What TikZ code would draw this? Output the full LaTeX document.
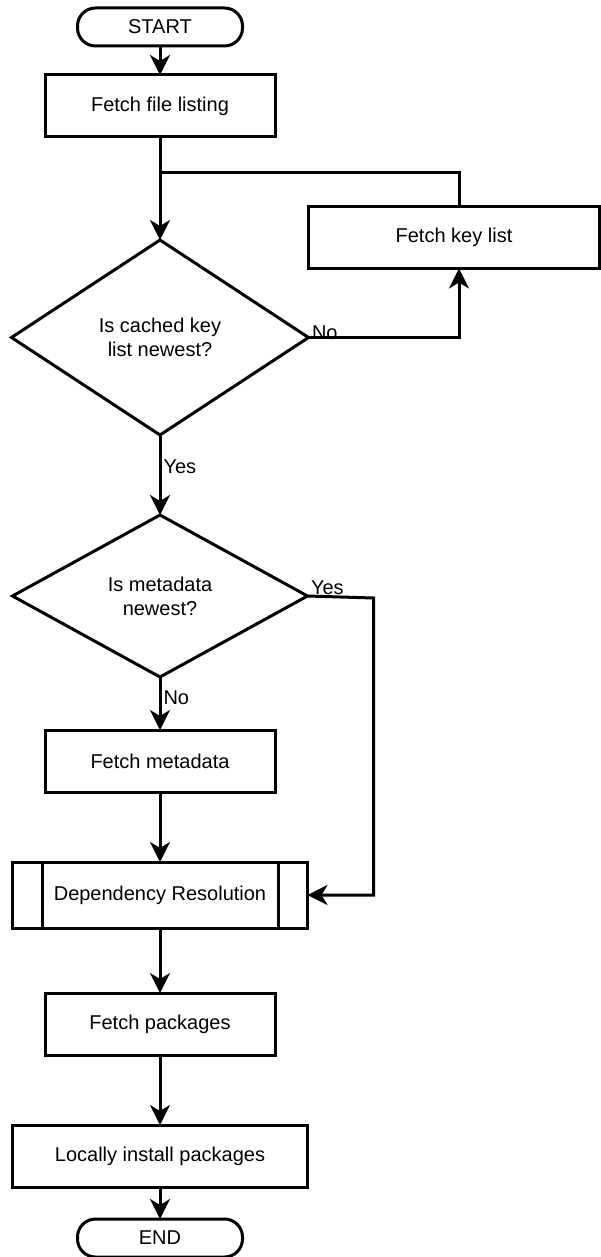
\documentclass[tikz,border=0pt]{standalone}
\usepackage{fontspec}
\setmainfont{Liberation Sans}
\usetikzlibrary{shapes.geometric,arrows.meta,positioning}
\tikzset{
  startend/.style={rectangle,rounded corners=9pt,draw,line width=1.5pt,minimum width=82.5pt,minimum height=19pt,inner sep=0pt,outer sep=0pt,font=\fontsize{10}{12}\selectfont},
  process/.style={rectangle,draw,line width=1.5pt,minimum width=115pt,minimum height=31pt,align=center,outer sep=0pt,font=\fontsize{10}{12}\selectfont},
  wideproc/.style={process,minimum width=147.5pt},
  decision/.style={diamond,draw,line width=1.5pt,align=center,inner sep=0pt,outer sep=0pt,font=\fontsize{10}{12}\selectfont},
  arrow/.style={-{Stealth[length=10pt,width=10pt,inset=3pt]},line width=1.5pt},
  link/.style={line width=1.5pt},
  branch/.style={inner sep=1pt,font=\fontsize{10}{12}\selectfont},
}
\begin{document}
\begin{tikzpicture}[node distance=14.5pt]
  \useasboundingbox (0,0) rectangle (300pt,-628.5pt);
  \node[startend] (start) at (80pt,-13.5pt) {START};
  \node[process, below=14.5pt of start] (listing) {Fetch file listing};
  \node[decision, minimum width=148.5pt, minimum height=97.5pt, below=51.5pt of listing] (cached) {Is cached key\\list newest?};
  \node[process, minimum width=145.5pt, above right=34.5pt and 0pt of cached.east] (keys) {Fetch key list};
  \node[decision, minimum width=147.5pt, minimum height=81pt, below=40pt of cached] (fresh) {Is metadata\\newest?};
  \node[process, below=26.5pt of fresh] (metadata) {Fetch metadata};
  \node[wideproc, minimum height=33pt, below=35pt of metadata] (resolve) {Dependency Resolution};
  \node[process, below=32.5pt of resolve] (packages) {Fetch packages};
  \node[wideproc, below=35pt of packages] (install) {Locally install packages};
  \node[startend, below=16pt of install] (finish) {END};
  \coordinate[below=18pt of listing] (merge);

  % side bars of the predefined process
  \draw[link] ([xshift=15pt]resolve.north west) -- ([xshift=15pt]resolve.south west);
  \draw[link] ([xshift=-14.5pt]resolve.north east) -- ([xshift=-14.5pt]resolve.south east);

  \draw[arrow] (start) -- (listing);
  \draw[link] (listing) -- (merge);
  \draw[arrow] (merge) -- (cached);
  \draw[link] ([xshift=2.5pt]keys.north) |- (merge);
  \draw[arrow] (cached.east) node[branch, anchor=west, yshift=2.5pt] {No} -| ([xshift=2.5pt]keys.south);
  \draw[arrow] (cached) -- node[branch, right, pos=0.4] {Yes} (fresh);
  \draw[arrow] (fresh.east) node[branch, anchor=west, yshift=4pt] {Yes} -- ++(33pt,-1pt) |- (resolve.east);
  \draw[arrow] (fresh) -- node[branch, right, pos=0.4] {No} (metadata);
  \draw[arrow] (metadata) -- (resolve);
  \draw[arrow] (resolve) -- (packages);
  \draw[arrow] (packages) -- (install);
  \draw[arrow] (install) -- (finish);
\end{tikzpicture}
\end{document}
